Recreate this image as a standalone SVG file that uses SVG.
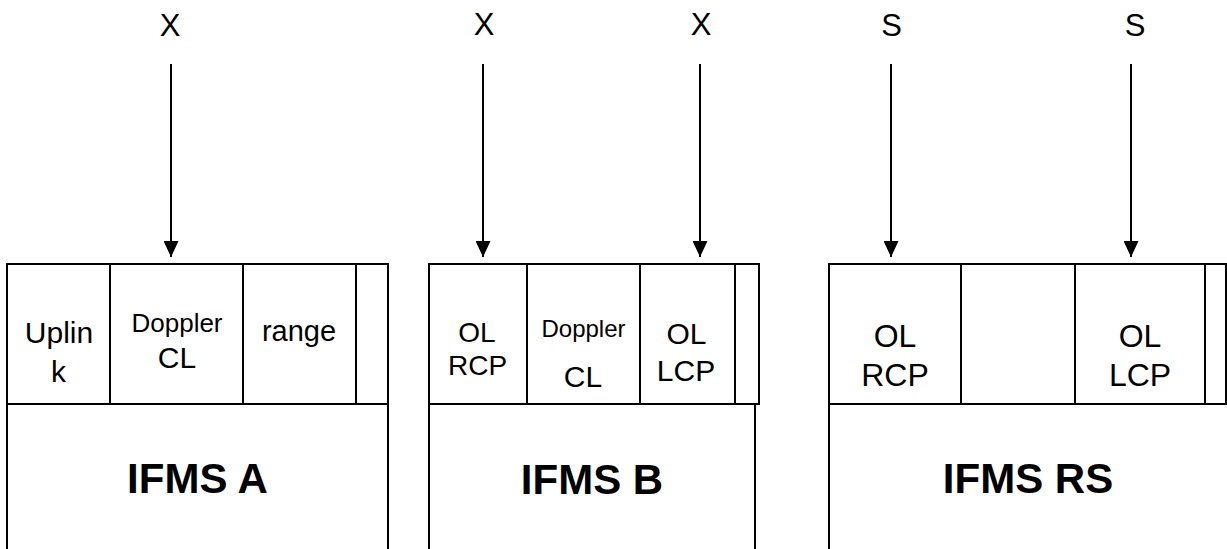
<svg xmlns="http://www.w3.org/2000/svg" width="1227" height="549" viewBox="0 0 1227 549">
<style>
.ln{stroke:#000;stroke-width:2;fill:none}
.bx{stroke:#000;stroke-width:2;fill:#fff}
text{font-family:"Liberation Sans",Arial,sans-serif;fill:#000;text-anchor:middle}
.lbl{font-size:31px}
.big{font-size:42px;font-weight:bold}
</style>
<defs>
<marker id="ah" markerWidth="16" markerHeight="15" refX="16" refY="7.5" orient="auto" markerUnits="userSpaceOnUse">
<path d="M0,0 L16,7.5 L0,15 Z" fill="#000"/>
</marker>
</defs>
<rect width="1227" height="549" fill="#fff"/>
<g id="labels">
<text class="lbl" x="170" y="36">X</text>
<text class="lbl" x="484" y="35">X</text>
<text class="lbl" x="701" y="35">X</text>
<text class="lbl" x="891.5" y="36">S</text>
<text class="lbl" x="1135" y="36">S</text>
</g>
<g id="connectors">
<line class="ln" x1="171" y1="64" x2="171" y2="257" marker-end="url(#ah)"/>
<line class="ln" x1="483" y1="64" x2="483" y2="257" marker-end="url(#ah)"/>
<line class="ln" x1="700" y1="64" x2="700" y2="257" marker-end="url(#ah)"/>
<line class="ln" x1="891" y1="64" x2="891" y2="257" marker-end="url(#ah)"/>
<line class="ln" x1="1131" y1="64" x2="1131" y2="257" marker-end="url(#ah)"/>
</g>
<g id="ifms-a">
<rect class="bx" x="7" y="264" width="381" height="140"/>
<line class="ln" x1="110" y1="264" x2="110" y2="404"/>
<line class="ln" x1="243" y1="264" x2="243" y2="404"/>
<line class="ln" x1="356" y1="264" x2="356" y2="404"/>
<line class="ln" x1="7" y1="404" x2="7" y2="549"/>
<line class="ln" x1="388" y1="404" x2="388" y2="549"/>
<text x="59" y="343" font-size="30">Uplin</text>
<text x="58.5" y="381.5" font-size="30">k</text>
<text x="177" y="331.5" font-size="26">Doppler</text>
<text x="177" y="367.5" font-size="30">CL</text>
<text x="299" y="341" font-size="29">range</text>
<text class="big" x="197.5" y="493">IFMS A</text>
</g>
<g id="ifms-b">
<rect class="bx" x="429" y="264" width="330" height="140"/>
<line class="ln" x1="527" y1="264" x2="527" y2="404"/>
<line class="ln" x1="640" y1="264" x2="640" y2="404"/>
<line class="ln" x1="735" y1="264" x2="735" y2="404"/>
<line class="ln" x1="429" y1="404" x2="429" y2="549"/>
<line class="ln" x1="755" y1="404" x2="755" y2="549"/>
<text x="477" y="341.5" font-size="28">OL</text>
<text x="477.5" y="375" font-size="28">RCP</text>
<text x="583.5" y="337" font-size="24">Doppler</text>
<text x="583" y="387" font-size="30">CL</text>
<text x="686.5" y="344" font-size="30">OL</text>
<text x="686" y="380.5" font-size="30">LCP</text>
<text class="big" x="592" y="494">IFMS B</text>
</g>
<g id="ifms-rs">
<rect class="bx" x="829" y="264" width="397" height="140"/>
<line class="ln" x1="961" y1="264" x2="961" y2="404"/>
<line class="ln" x1="1075" y1="264" x2="1075" y2="404"/>
<line class="ln" x1="1205" y1="264" x2="1205" y2="404"/>
<line class="ln" x1="829" y1="404" x2="829" y2="549"/>
<text x="895" y="346.5" font-size="32">OL</text>
<text x="895" y="386" font-size="32">RCP</text>
<text x="1140" y="346.5" font-size="32">OL</text>
<text x="1140" y="386" font-size="32">LCP</text>
<text class="big" x="1028" y="493">IFMS RS</text>
</g>
</svg>
